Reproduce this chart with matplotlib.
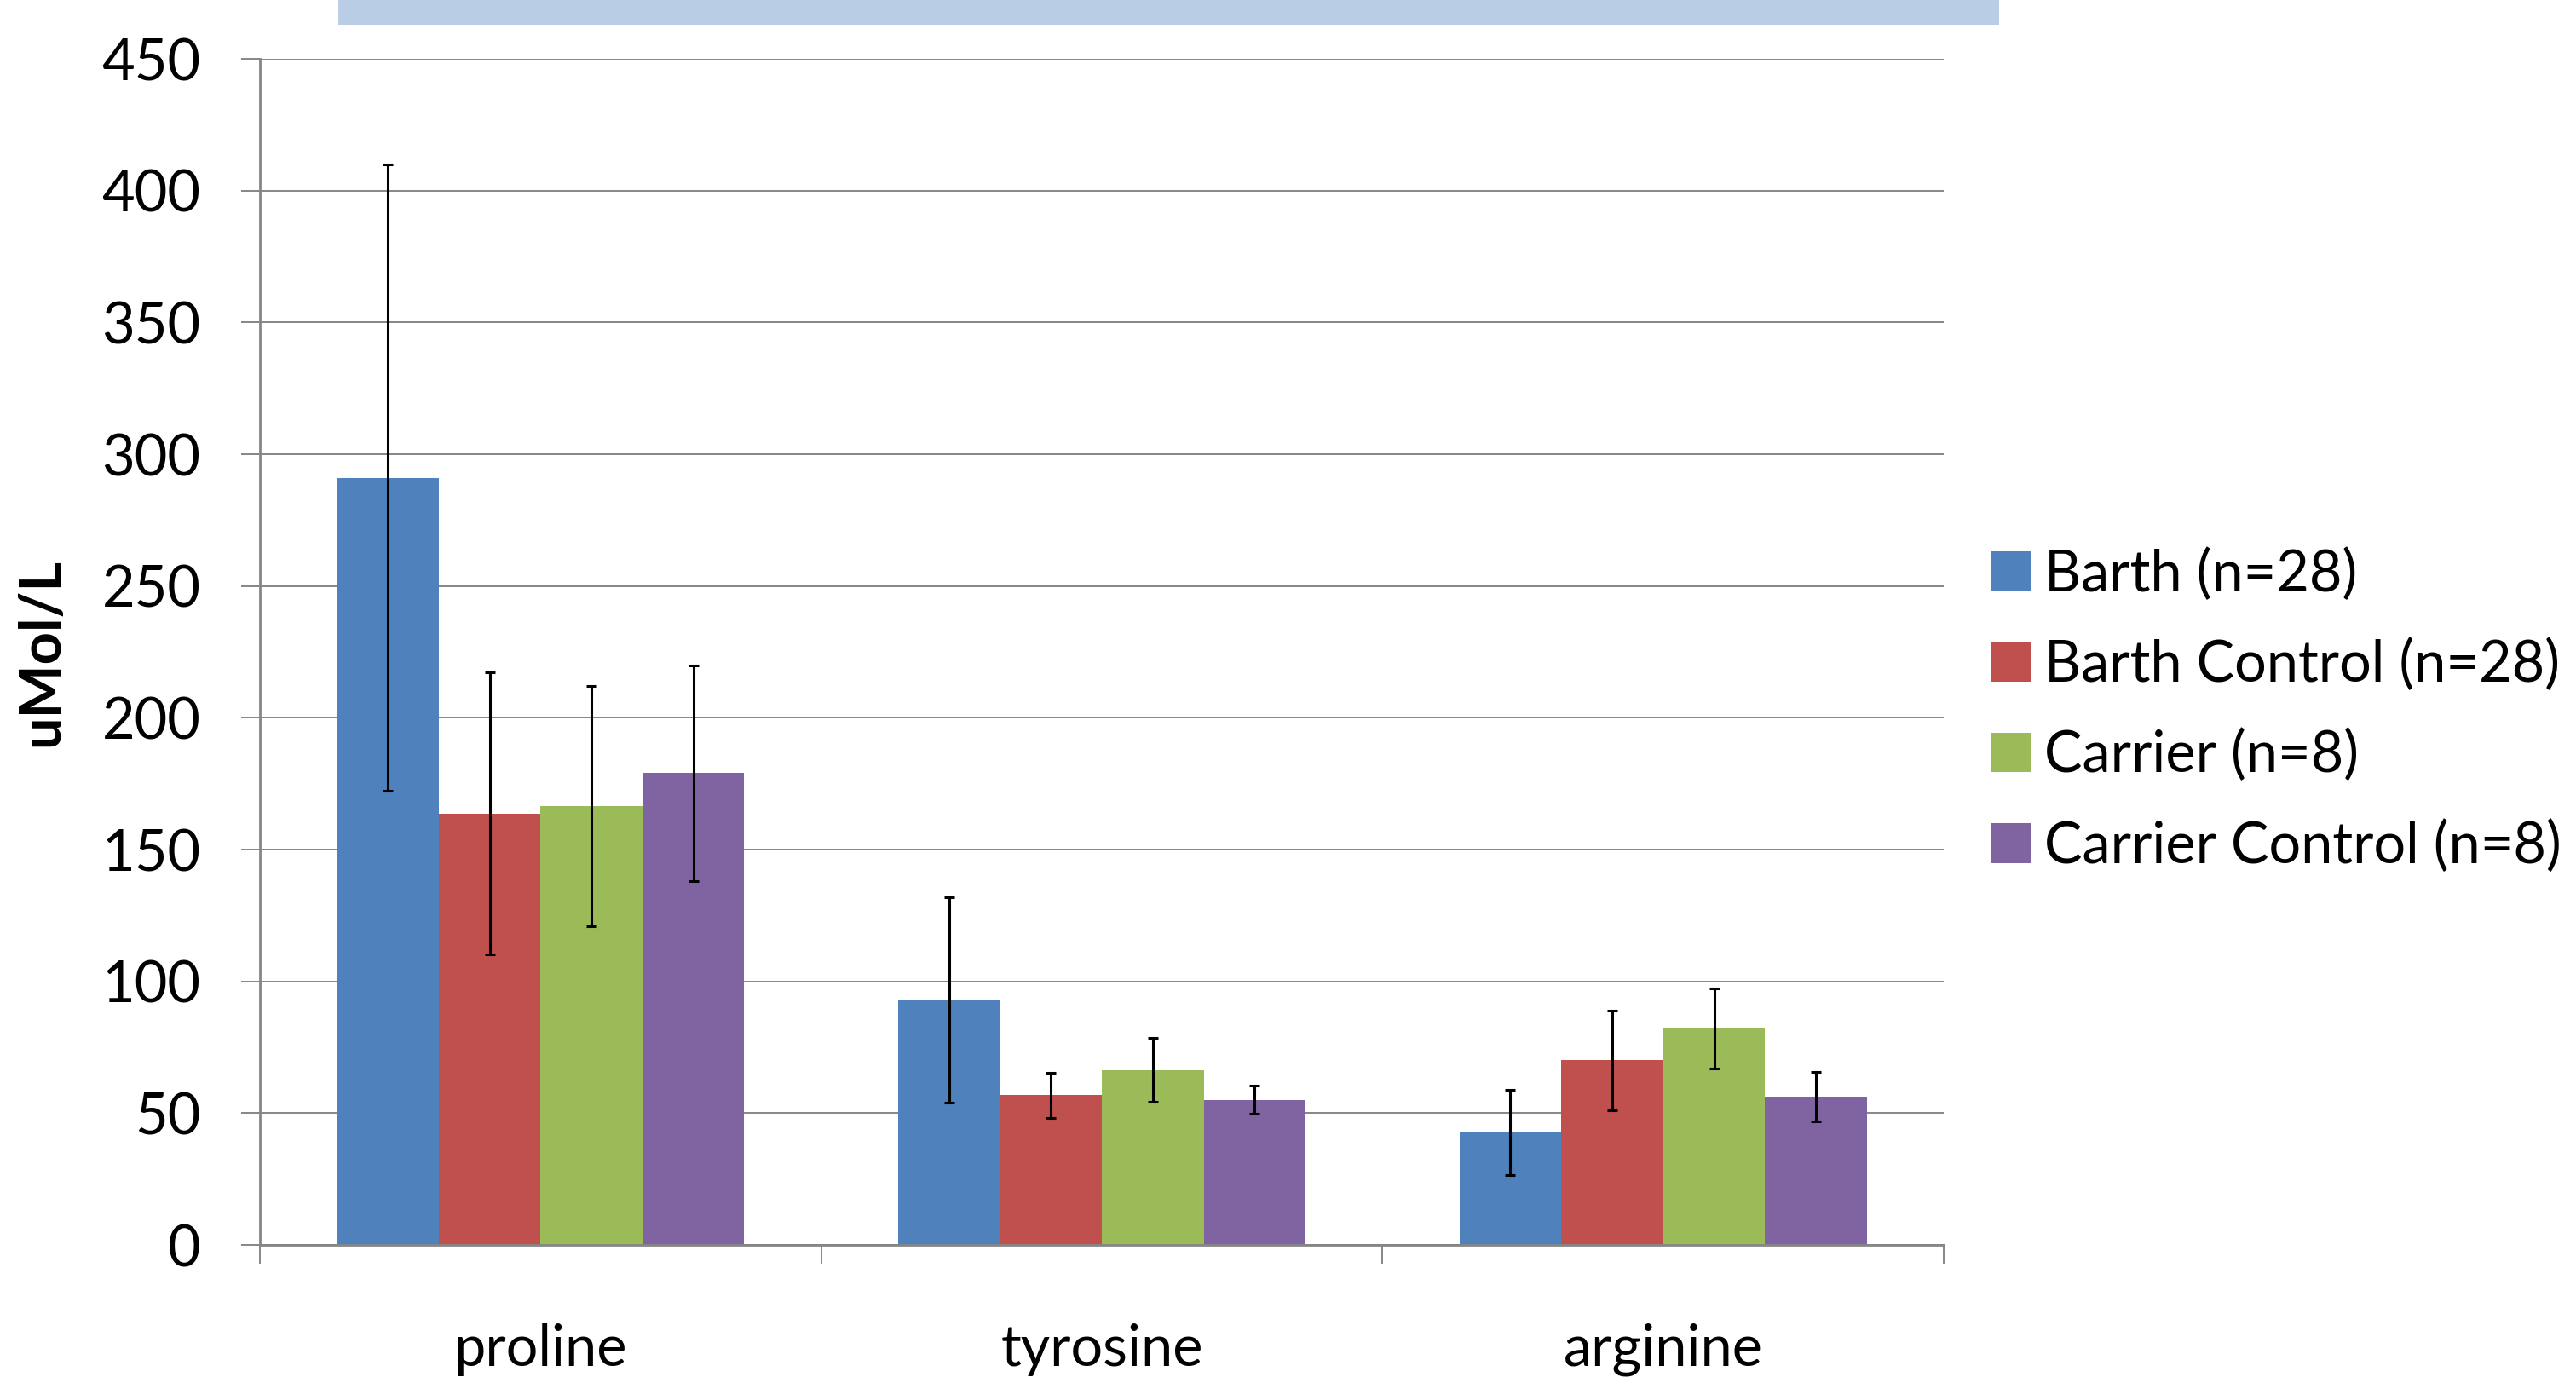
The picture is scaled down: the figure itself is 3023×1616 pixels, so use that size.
import numpy as np
import matplotlib.pyplot as plt
from matplotlib.patches import Rectangle

plt.rcParams['font.family'] = ['Lato', 'DejaVu Sans']

categories = ['proline', 'tyrosine', 'arginine']
series = ['Barth (n=28)', 'Barth Control (n=28)', 'Carrier (n=8)', 'Carrier Control (n=8)']
values = [
    [291, 93, 42.6],     # Barth
    [163.6, 56.8, 70],   # Barth Control
    [166.5, 66.4, 82],   # Carrier
    [179, 55, 56.2],     # Carrier Control
]
errors = [
    [118.8, 39, 16.2],
    [53.5, 8.5, 18.8],
    [45.6, 12.2, 15.2],
    [40.8, 5.3, 9.4],
]
colors = ['#4F81BD', '#C0504D', '#9BBB59', '#8064A2']
yticks = np.arange(0, 451, 50)

fig = plt.figure(figsize=(15.115, 8.08), dpi=200)
ax = fig.add_axes([0.1009, 0.0959, 0.6537, 0.8614])

x = np.arange(len(categories))
w = 0.1815
for i in range(len(series)):
    ax.bar(x + (i - 1.5) * w, values[i], w, color=colors[i], label=series[i], zorder=2)
    ax.errorbar(x + (i - 1.5) * w, values[i], yerr=errors[i], fmt='none',
                ecolor='black', elinewidth=1.1, capsize=2.3, capthick=1.1, zorder=3)

grid_c = '#868686'
ax.set_xlim(-0.5, 2.5)
ax.set_ylim(0, 450)
ax.set_yticks(yticks)
ax.yaxis.grid(True, color=grid_c, linewidth=0.7, zorder=0)
ax.set_axisbelow(True)
for s in ['top', 'right']:
    ax.spines[s].set_visible(False)
for s in ['left', 'bottom']:
    ax.spines[s].set_color(grid_c)
    ax.spines[s].set_linewidth(1.0)

ax.set_xticks(x)
ax.set_xticklabels(categories)
ax.set_xticks([-0.5, 0.5, 1.5, 2.5], minor=True)
ax.tick_params(axis='x', which='major', length=0, pad=33, labelsize=24)
ax.tick_params(axis='x', which='minor', length=8, color=grid_c, width=0.7)
ax.tick_params(axis='y', length=8, color=grid_c, width=0.7, labelsize=24, pad=17)
ax.set_ylabel('uMol/L', fontsize=24, fontweight='bold', labelpad=14)

ax.legend(loc='center left', bbox_to_anchor=(0.773, 0.484), bbox_transform=fig.transFigure,
          frameon=False, fontsize=24, handlelength=0.69, handleheight=0.69,
          handletextpad=0.25, labelspacing=0.655, borderpad=0, borderaxespad=0)

# light blue band at top (cropped title box)
fig.patches.append(Rectangle((0.1313, 0.982), 0.6448, 0.018, transform=fig.transFigure,
                             facecolor='#B9CDE5', edgecolor='none'))

fig.savefig('out.png', dpi=200)
